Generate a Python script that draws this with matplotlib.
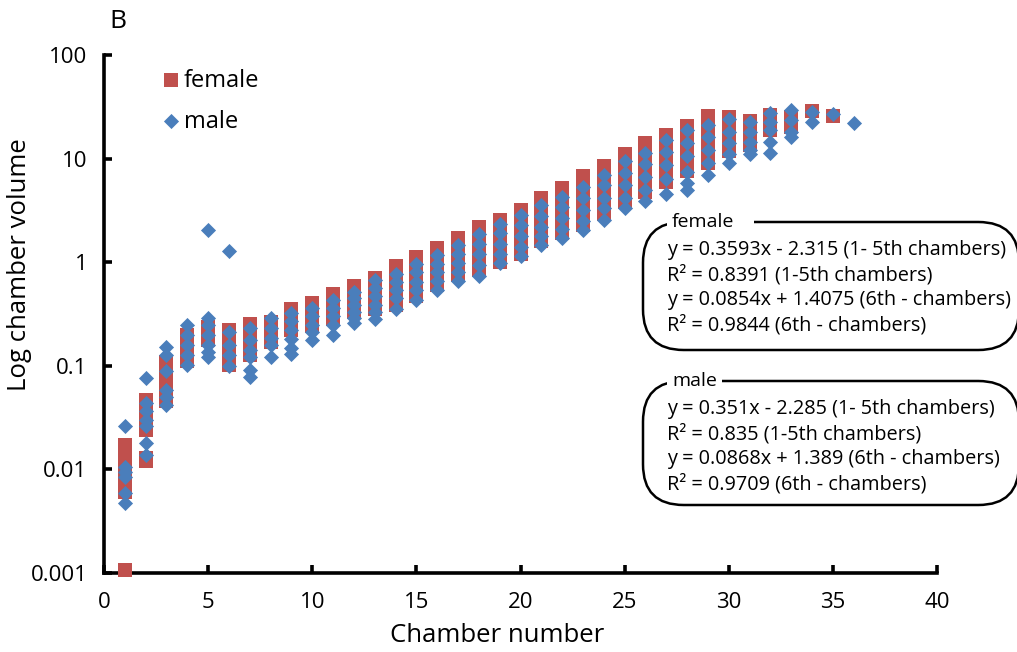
import matplotlib
matplotlib.use("Agg")
import matplotlib.pyplot as plt
from matplotlib.patches import FancyBboxPatch

plt.rcParams['font.family'] = ['Open Sans', 'DejaVu Sans']

# ---- data ----
female_chambers = list(range(1, 36))
female_volumes = [
    [0.0172, 0.0138, 0.0111, 0.0089, 0.0079, 0.0060, 0.00107],
    [0.047, 0.040, 0.033, 0.027, 0.024, 0.013, 0.012],
    [0.109, 0.087, 0.070, 0.055, 0.046],
    [0.198, 0.158, 0.126, 0.111],
    [0.237, 0.208, 0.178],
    [0.222, 0.178, 0.142, 0.118, 0.101],
    [0.253, 0.198, 0.158, 0.126],
    [0.265, 0.210, 0.168],
    [0.35, 0.29, 0.22],
    [0.40, 0.31, 0.24],
    [0.49, 0.37, 0.28],
    [0.59, 0.50, 0.42, 0.33],
    [0.70, 0.58, 0.47, 0.35],
    [0.92, 0.75, 0.60, 0.48, 0.39],
    [1.12, 0.90, 0.72, 0.58, 0.47],
    [1.37, 1.10, 0.90, 0.72, 0.60],
    [1.72, 1.40, 1.10, 0.90, 0.76],
    [2.2, 1.7, 1.3, 1.05, 0.84],
    [2.55, 2.0, 1.6, 1.25, 1.0],
    [3.2, 2.6, 2.0, 1.5, 1.2],
    [4.2, 3.3, 2.6, 2.0, 1.6],
    [5.2, 4.0, 3.1, 2.4, 1.9],
    [6.8, 5.2, 4.0, 3.0, 2.3],
    [8.5, 6.5, 5.0, 3.8, 2.9],
    [11.0, 8.5, 6.5, 5.0, 3.8],
    [14.0, 11.0, 8.5, 6.5, 4.8],
    [17.0, 13.5, 10.5, 8.0, 6.0],
    [20.6, 16.0, 12.5, 9.5, 7.6],
    [26.0, 20.0, 15.0, 11.5, 9.1],
    [25.0, 19.0, 15.0, 11.8],
    [23.0, 18.0, 13.5],
    [26.4, 22.0, 18.9],
    [25.0, 20.0],
    [29.0],
    [25.5],
]

male_chambers = list(range(1, 37))
male_volumes = [
    [0.026, 0.0105, 0.0095, 0.0085, 0.0059, 0.0047],
    [0.077, 0.044, 0.037, 0.030, 0.026, 0.018, 0.0138],
    [0.152, 0.127, 0.090, 0.058, 0.050, 0.042],
    [0.245, 0.198, 0.158, 0.126, 0.101],
    [0.29, 0.25, 0.20, 0.16, 0.137, 0.122, 2.05],
    [0.21, 0.16, 0.126, 0.10, 1.28],
    [0.23, 0.178, 0.142, 0.122, 0.092, 0.078],
    [0.29, 0.23, 0.185, 0.158, 0.122],
    [0.32, 0.27, 0.22, 0.18, 0.15, 0.13],
    [0.36, 0.30, 0.25, 0.21, 0.177],
    [0.43, 0.36, 0.30, 0.25, 0.20],
    [0.51, 0.45, 0.39, 0.33, 0.29, 0.26],
    [0.67, 0.56, 0.47, 0.39, 0.33, 0.28],
    [0.77, 0.64, 0.54, 0.45, 0.35],
    [0.96, 0.80, 0.65, 0.54, 0.43],
    [1.17, 0.97, 0.80, 0.66, 0.54],
    [1.47, 1.20, 0.98, 0.80, 0.66],
    [1.87, 1.50, 1.20, 0.95, 0.73],
    [2.33, 1.90, 1.50, 1.20, 0.99],
    [2.86, 2.30, 1.80, 1.40, 1.15],
    [3.56, 2.80, 2.20, 1.80, 1.47],
    [4.3, 3.4, 2.7, 2.1, 1.72],
    [5.3, 4.2, 3.2, 2.5, 2.05],
    [7.0, 5.5, 4.2, 3.3, 2.55],
    [9.4, 7.2, 5.5, 4.2, 3.3],
    [11.3, 8.8, 6.7, 5.0, 3.9],
    [15.1, 11.5, 8.6, 6.3, 4.6],
    [18.9, 14.0, 10.5, 7.5, 5.8, 5.0],
    [21.0, 16.0, 12.0, 9.0, 6.9],
    [24.0, 18.0, 14.0, 11.0, 9.0],
    [22.6, 18.0, 14.5, 12.0, 11.0],
    [27.5, 22.6, 18.9, 14.4, 11.3],
    [29.4, 23.6, 18.0, 16.0],
    [28.0, 22.6],
    [27.0],
    [22.0],
]

y_ticks = [0.001, 0.01, 0.1, 1, 10, 100]
y_tick_labels = ["0.001", "0.01", "0.1", "1", "10", "100"]
x_ticks = [0, 5, 10, 15, 20, 25, 30, 35, 40]

female_text = ["y = 0.3593x - 2.315 (1- 5th chambers)",
               "R² = 0.8391 (1-5th chambers)",
               "y = 0.0854x + 1.4075 (6th - chambers)",
               "R² = 0.9844 (6th - chambers)"]
male_text = ["y = 0.351x - 2.285 (1- 5th chambers)",
             "R² = 0.835 (1-5th chambers)",
             "y = 0.0868x + 1.389 (6th - chambers)",
             "R² = 0.9709 (6th - chambers)"]

RED = "#C0504D"
BLUE = "#4A7EBB"

# ---- figure ----
W, H = 1017, 652
fig = plt.figure(figsize=(W / 100, H / 100), dpi=100)
ax = fig.add_axes([104 / W, 1 - 573 / H, (937 - 104) / W, (573 - 55) / H])

fx = [c for c, vals in zip(female_chambers, female_volumes) for _ in vals]
fy = [v for vals in female_volumes for v in vals]
mx = [c for c, vals in zip(male_chambers, male_volumes) for _ in vals]
my = [v for vals in male_volumes for v in vals]

ax.scatter(fx, fy, marker='s', s=10.2 ** 2, color=RED, linewidths=0,
           label='female', zorder=3, clip_on=False)
ax.scatter(mx, my, marker='D', s=7.7 ** 2, color=BLUE, linewidths=0,
           label='male', zorder=4, clip_on=False)

ax.set_yscale('log')
ax.set_ylim(0.001, 100)
ax.set_xlim(0, 40)
ax.set_yticks(y_ticks)
ax.set_yticklabels(y_tick_labels)
ax.minorticks_off()
ax.set_xticks(x_ticks)
ax.set_xticklabels([str(t) for t in x_ticks])

for side in ['top', 'right']:
    ax.spines[side].set_visible(False)
for side in ['left', 'bottom']:
    ax.spines[side].set_linewidth(2.6)
    ax.spines[side].set_capstyle('projecting')
ax.tick_params(axis='both', direction='in', length=6, width=2.6,
               labelsize=16, colors='black')
ax.tick_params(axis='x', pad=14)
ax.tick_params(axis='y', pad=12)

ax.set_xlabel("Chamber number", fontsize=18.5)
ax.set_ylabel("Log chamber volume", fontsize=18.5)
ax.xaxis.set_label_coords((497 - 104) / 833, -(636 - 573) / 518)
ax.yaxis.set_label_coords((20 - 104) / 833, (573 - 265) / 518)
ax.xaxis.label.set_va('center')
ax.yaxis.label.set_va('center')

leg = ax.legend(loc='upper left', bbox_to_anchor=(0.055, 0.992), frameon=False,
                fontsize=17, handletextpad=0.05, labelspacing=0.72,
                borderaxespad=0, handlelength=1.0)

fig.text(118 / W, 1 - 22 / H, "B", fontsize=19, ha='center', va='center')

# ---- regression text boxes ----
def text_box(top, bottom, title, lines, title_gap_end):
    left, right = 643, 1019
    box = FancyBboxPatch((left / W, 1 - bottom / H), (right - left) / W,
                         (bottom - top) / H,
                         boxstyle="round,pad=0,rounding_size=0.04",
                         transform=fig.transFigure, facecolor='white',
                         edgecolor='black', linewidth=1.8, clip_on=False,
                         mutation_aspect=W / H)
    fig.add_artist(box)
    # white gap in top border for title
    fig.add_artist(plt.Rectangle((667 / W, 1 - (top + 4) / H),
                                 (title_gap_end - 667) / W, 8 / H,
                                 transform=fig.transFigure, facecolor='white',
                                 edgecolor='none', zorder=5))
    fig.text(672 / W, 1 - top / H, title, fontsize=14, ha='left',
             va='center', zorder=6)
    y0 = top + 28
    for i, line in enumerate(lines):
        fig.text(667 / W, 1 - (y0 + i * 25) / H, line, fontsize=14.3,
                 ha='left', va='center', zorder=6)

text_box(222, 350, "female", female_text, 754)
text_box(381, 505, "male", male_text, 722)

fig.savefig("out.png", dpi=100)
